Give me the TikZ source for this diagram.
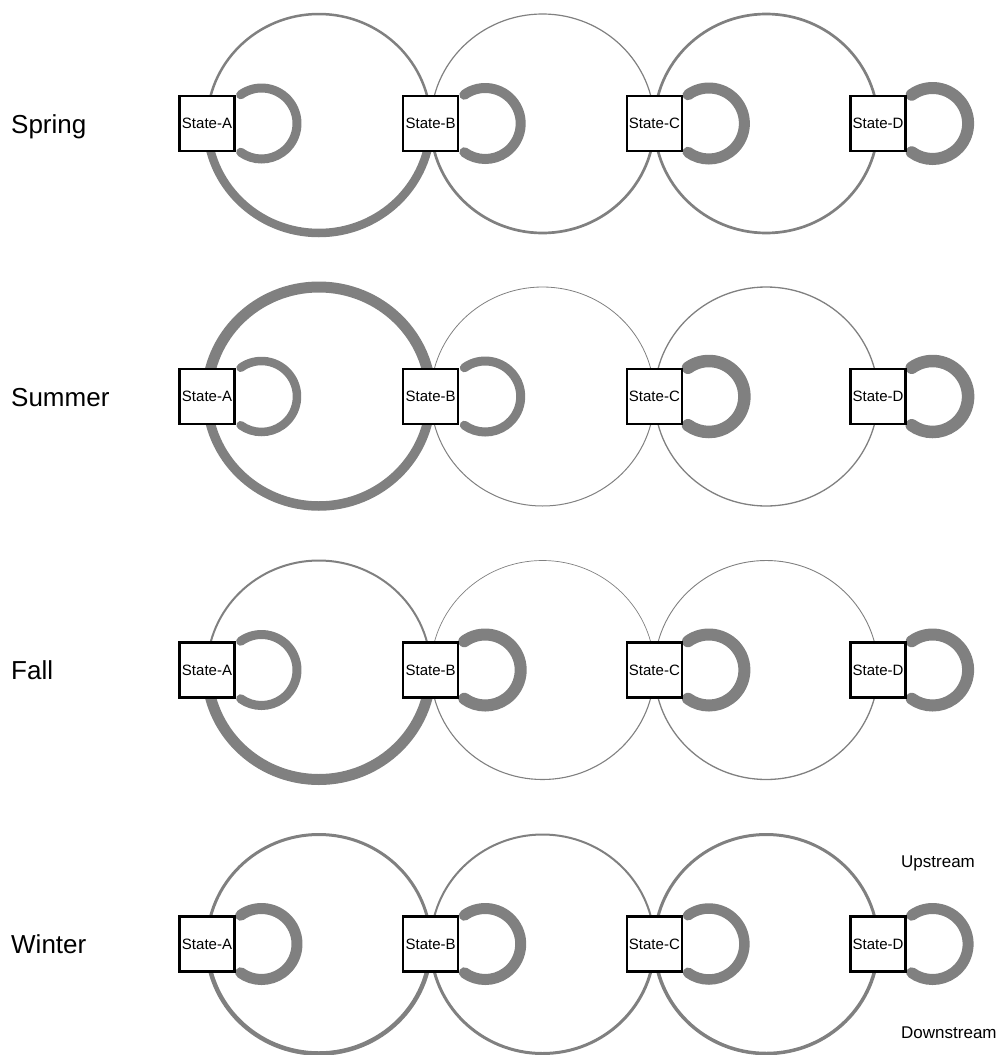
\documentclass[tikz,border=0pt]{standalone}
\usepackage{fontspec}
\setmainfont{Liberation Sans}
\usetikzlibrary{backgrounds}
\definecolor{flowgray}{RGB}{128,128,128}
\begin{document}
\begin{tikzpicture}[x=1pt,y=1pt,
  state/.style={draw=black, fill=white, line width=2.4pt, minimum size=55pt, inner sep=0pt, font=\fontsize{15}{18}\selectfont},
  season/.style={anchor=base west, inner sep=0pt, font=\fontsize{26}{30}\selectfont},
  note/.style={anchor=base west, inner sep=0pt, font=\fontsize{17}{20}\selectfont},
  flow/.style={draw=flowgray},
  loopflow/.style={draw=flowgray, line cap=round}]
\useasboundingbox (0,0) rectangle (1003,-1055);
\foreach \s/\yy/\ta/\tb/\tc/\td/\te/\tf/\la/\lb/\lc/\ld in {
  Spring/-123.5/2.5/8.5/1.2/2.7/2.7/2.7/9/10/11/12,
  Summer/-396.5/11/9.5/0.8/1/1.3/1.3/8.5/9/12.5/12.5,
  Fall/-670/2/11/0.7/1.1/0.9/1.3/9/12/12/12,
  Winter/-944/3/4.5/2/3/3/3.5/11/11/10.5/11}
{
  \node[season] (\s) at (11,\yy-9.5) {\s};
  \node[state] (\s-A) at (207,\yy) {State-A};
  \node[state] (\s-B) at (430.7,\yy) {State-B};
  \node[state] (\s-C) at (654.4,\yy) {State-C};
  \node[state] (\s-D) at (878.1,\yy) {State-D};
  \begin{pgfonlayer}{background}
    % upstream (top) and downstream (bottom) arcs between neighbouring states
    \draw[flow, line width=\ta pt] (\s-A.center) arc[start angle=180, end angle=0, x radius=111.85, y radius=109.5];
    \draw[flow, line width=\tb pt] (\s-A.center) arc[start angle=180, end angle=360, x radius=111.85, y radius=109.5];
    \draw[flow, line width=\tc pt] (\s-B.center) arc[start angle=180, end angle=0, x radius=111.85, y radius=109.5];
    \draw[flow, line width=\td pt] (\s-B.center) arc[start angle=180, end angle=360, x radius=111.85, y radius=109.5];
    \draw[flow, line width=\te pt] (\s-C.center) arc[start angle=180, end angle=0, x radius=111.85, y radius=109.5];
    \draw[flow, line width=\tf pt] (\s-C.center) arc[start angle=180, end angle=360, x radius=111.85, y radius=109.5];
    % self loops
    \draw[loopflow, line width=\la pt] (\s-A.center) ++(54.5,0) ++(126:35.5) arc[start angle=126, end angle=-126, radius=35.5];
    \draw[loopflow, line width=\lb pt] (\s-B.center) ++(54.5,0) ++(126:35.5) arc[start angle=126, end angle=-126, radius=35.5];
    \draw[loopflow, line width=\lc pt] (\s-C.center) ++(54.5,0) ++(126:35.5) arc[start angle=126, end angle=-126, radius=35.5];
    \draw[loopflow, line width=\ld pt] (\s-D.center) ++(54.5,0) ++(126:35.5) arc[start angle=126, end angle=-126, radius=35.5];
  \end{pgfonlayer}
}
\node[note] (up) at (901,-867) {Upstream};
\node[note] (down) at (901,-1038) {Downstream};
\end{tikzpicture}
\end{document}
